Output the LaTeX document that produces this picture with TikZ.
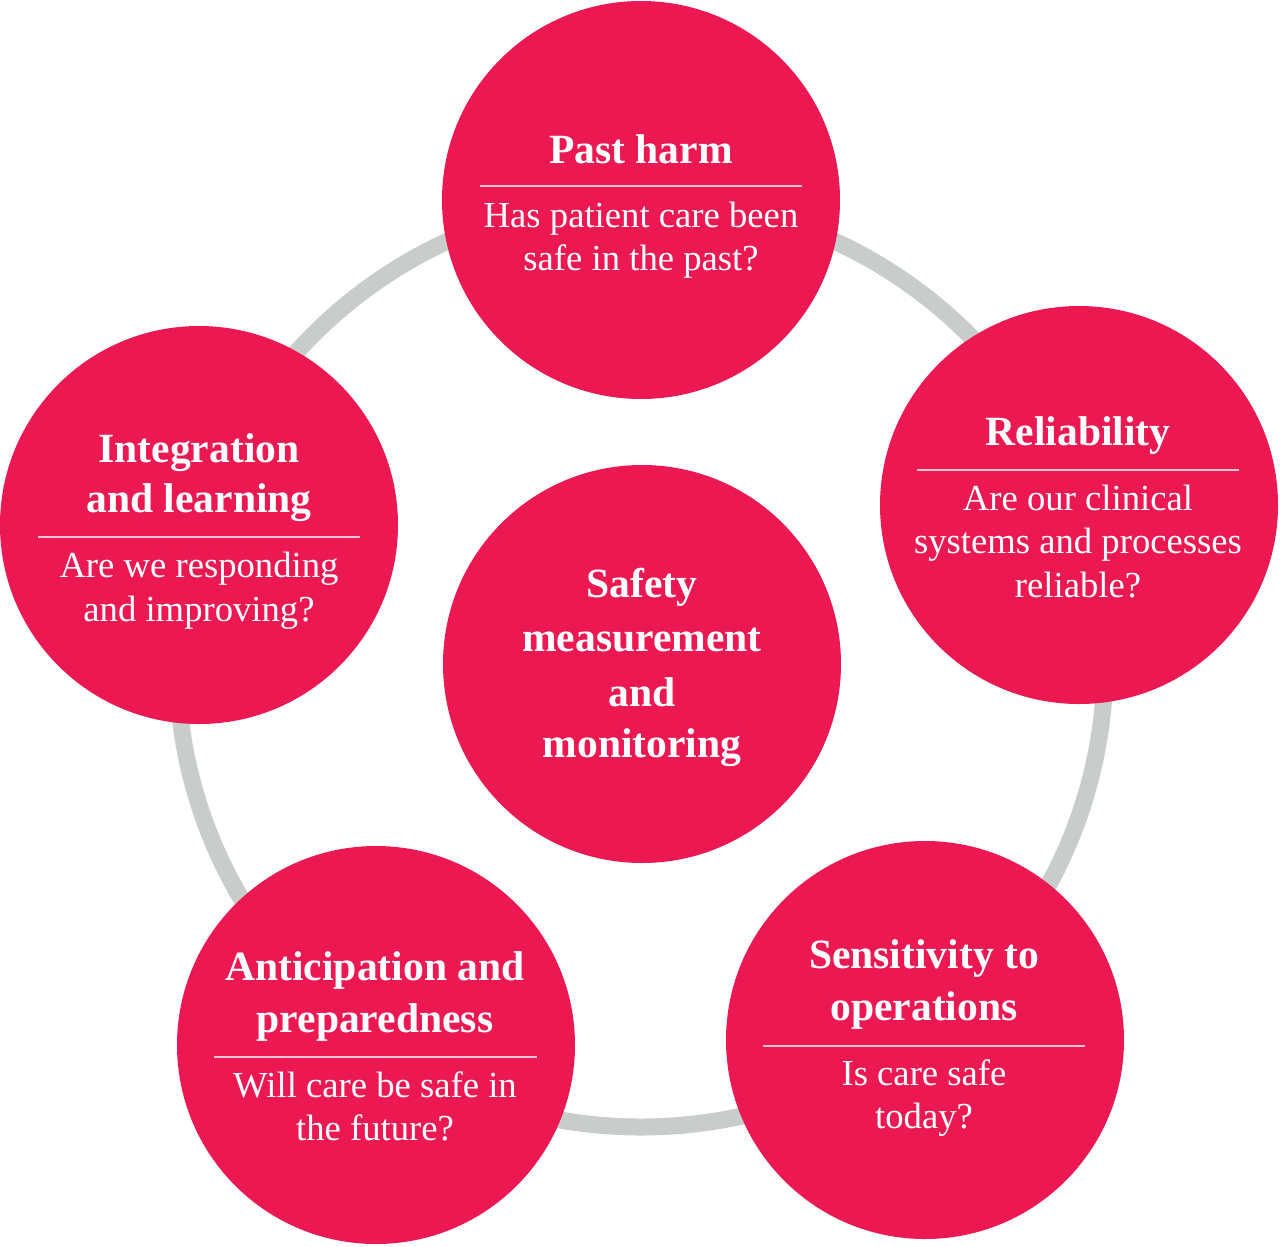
\documentclass[tikz,border=0pt]{standalone}
\usepackage{fontspec}
\setmainfont{Liberation Serif}
\definecolor{circred}{RGB}{236,24,82}
\definecolor{ringgray}{RGB}{200,204,202}
\definecolor{seppink}{RGB}{250,196,212}
\begin{document}
\begin{tikzpicture}[x=0.75pt,y=-0.75pt,
  bubble/.style={circle,fill=circred,minimum size=298.5pt,inner sep=0pt},
  ttl/.style={anchor=base,text=white,inner sep=0pt,font=\bfseries\fontsize{31.2pt}{36pt}\selectfont},
  bdy/.style={anchor=base,text=white,inner sep=0pt,font=\fontsize{27.5pt}{32pt}\selectfont},
  sep/.style={draw=seppink,line width=1.4pt}]
\useasboundingbox (0,0) rectangle (1280,1246);
\draw[ringgray,line width=12.75pt] (641,663) circle[radius=464];
% circles
\node[bubble] (top) at (641,200) {};
\node[bubble] (rgt) at (1079,505) {};
\node[bubble] (brt) at (925,1040) {};
\node[bubble] (blt) at (376,1045) {};
\node[bubble] (lft) at (199,525) {};
\node[bubble] (ctr) at (642,664) {};
% top
\node[ttl] (t1) at (641,163) {Past harm};
\draw[sep] (480,186) -- (802,186);
\node[bdy] (t2) at (641,227) {Has patient care been};
\node[bdy] (t3) at (641,270) {safe in the past?};
% right
\node[ttl] (r1) at (1078,445) {Reliability};
\draw[sep] (917,470) -- (1239,470);
\node[bdy] (r2) at (1078,510) {Are our clinical};
\node[bdy] (r3) at (1078,553) {systems and processes};
\node[bdy] (r4) at (1078,597) {reliable?};
% left
\node[ttl] (l1) at (199,462) {Integration};
\node[ttl] (l2) at (199,512) {and learning};
\draw[sep] (38,537) -- (360,537);
\node[bdy] (l3) at (199,577) {Are we responding};
\node[bdy] (l4) at (199,621) {and improving?};
% centre
\node[ttl] (c1) at (642,597) {Safety};
\node[ttl] (c2) at (642,651) {measurement};
\node[ttl] (c3) at (642,706) {and};
\node[ttl] (c4) at (642,757) {monitoring};
% bottom left
\node[ttl] (bl1) at (375,980) {Anticipation and};
\node[ttl] (bl2) at (375,1032) {preparedness};
\draw[sep] (214,1057) -- (537,1057);
\node[bdy] (bl3) at (375,1097) {Will care be safe in};
\node[bdy] (bl4) at (375,1140) {the future?};
% bottom right
\node[ttl] (br1) at (924,968) {Sensitivity to};
\node[ttl] (br2) at (924,1020) {operations};
\draw[sep] (763,1046) -- (1085,1046);
\node[bdy] (br3) at (924,1085) {Is care safe};
\node[bdy] (br4) at (924,1128) {today?};
\end{tikzpicture}
\end{document}
